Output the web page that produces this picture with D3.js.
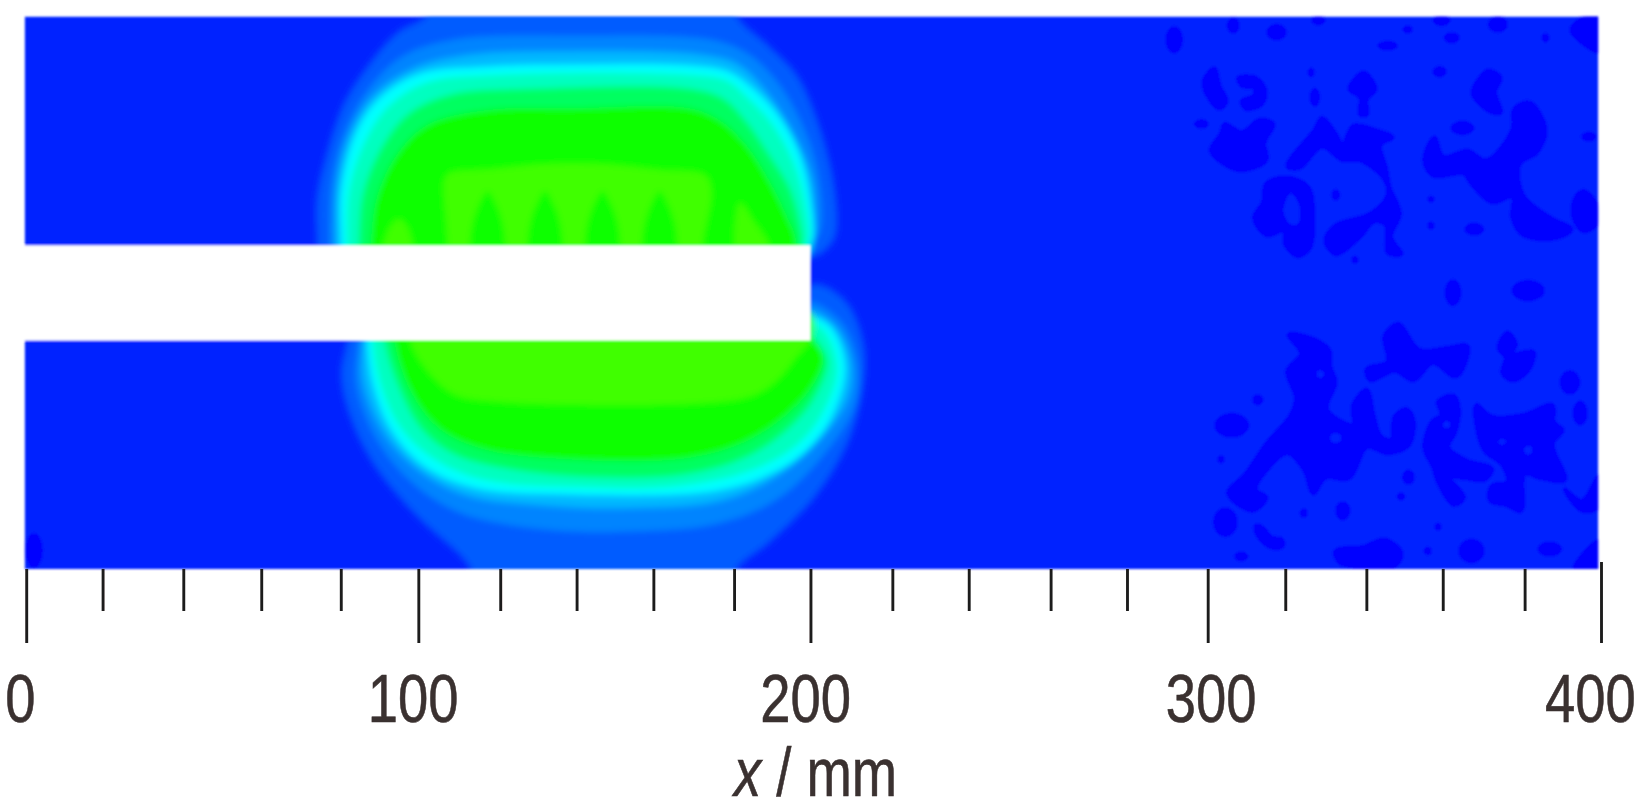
<!DOCTYPE html>
<html><head><meta charset="utf-8">
<script src="https://cdn.jsdelivr.net/npm/d3@7"></script>
<style>html,body{margin:0;padding:0;background:#fff}svg{display:block}</style>
</head><body><svg id="c" width="1644" height="799"></svg>
<script>
// ---- axis data (tick places, mm) ----
const minorTicks = [19.4,39.9,59.7,79.9,120.4,139.8,159.3,179.8,220,239.4,260.2,279.6,319.8,340.4,359.8,380.6];
const majorTicks = [0,99.6,199.2,300.1,400];
const tickLabels = ["0","100","200","300","400"];
const labelCentres = [-1.5,98.3,198,301,397.3];   // mm
const slot = {end:199.2, top:82.2, bottom:58};

// ---- field contours (mm), outermost to innermost ----
const levelColours = ["#005cff","#0084ff","#00b8ff","#00ffff","#00ffc0","#00ff60","#10ff00","#40ff00"];
const upper1 = [[73.8,70],[73.8,82.4],[73.8,94.1],[76.4,105.7],[80.8,118.4],[87,128],[94,136],[102,141],[102,146],[180.6,146],[180.6,140.5],[188.6,132.9],[195.9,125.2],[201.7,111.6],[205.4,96],[205.4,84.4],[201.7,80],[199,79],[190,70]];
const upper2 = [[77.1,70],[77.1,82.4],[77.6,98],[80.8,110.6],[86.6,121.3],[95.3,130],[108.5,134.4],[139.1,135.4],[174,134.4],[183,131],[190.5,124],[197,113],[201,100.9],[201.7,86.3],[199.1,82.4],[190,70]];
const upper3 = [[78.5,70],[78.5,82.4],[79,98],[82,110],[88,120],[98,127],[112,130.5],[139,131.5],[172,130.5],[181,128],[188.5,120.5],[195,110],[199.5,99],[200,86],[199.1,82],[190,70]];
const upper4 = [[80,70],[80,82.4],[80,96],[83.7,110.6],[89.5,119.3],[99.7,125.7],[117.2,127.6],[139.1,128.1],[168.2,127.9],[178.4,126.3],[184.3,122.3],[190.1,116.4],[195.9,106.7],[199.1,94.1],[199.6,82.4],[190,70]];
const upper5 = [[81.5,70],[81.5,82.4],[82,96],[86,108.5],[92,117.5],[101.5,123.5],[120,125.5],[168.2,125.5],[178,124],[183.5,119.5],[189.5,113],[195,103],[198,92],[198.5,82.4],[190,70]];
const upper6 = [[84,70],[84.5,82.4],[85.5,95],[90,106.5],[97,115.5],[108,120.5],[130,122],[168,122],[177,119.5],[183,113.5],[188.5,105.5],[194,96.5],[196.7,87],[197,82.4],[190,70]];
const upper7 = [[86.6,70],[87.5,82.4],[89,94],[94,105],[102,112.8],[118,116.6],[139,117],[168.2,117],[176,114],[183,107.5],[188.5,99],[193,90],[195.5,82.4],[190,70]];
const upper8 = [[106.3,70],[107,82.4],[106.3,99],[107.5,100.5],[118,101.5],[131.8,102.8],[146.4,102.8],[160.9,101.3],[172.5,99.9],[174,96],[171.9,82.4],[171.9,70]];
const lower1 = [[81.5,65],[81.5,58.3],[80,49.4],[82.2,39],[88,27],[98.3,14.4],[112.8,0],[112.8,-5],[180.6,-5],[180.6,0],[188.6,6.6],[200.3,18.3],[209,32.8],[212.7,47.4],[212.7,57.1],[209,66.9],[203.2,71.7],[199.1,72.2],[190,65]];
const lower2 = [[84.4,65],[84.4,58.3],[83.7,47.4],[88,34.8],[96.8,23.1],[109.9,14.4],[131.8,10],[153.6,9.5],[175.5,11.5],[190.1,17.3],[201.7,28],[210.5,41.6],[211.2,52.3],[207.6,62],[201.7,66.9],[199.1,67.8],[190,65]];
const lower3 = [[85.5,65],[85.5,58.3],[85.5,48],[90,36],[98,26.5],[111,19],[133,16],[154,15.5],[175,17],[188,22],[200,31.5],[208.5,43],[209.5,52.5],[206,61],[201,65],[199.1,65.5],[190,63]];
const lower4 = [[86.6,65],[86.6,58.3],[88,47.4],[92.4,35.8],[101.2,26],[114.3,20.5],[139.1,18.9],[165.3,18.9],[176,20],[186,22.8],[197,29],[204.5,38.5],[208,51.3],[204.7,61],[200.3,63.9],[199.1,63.8],[190,63]];
const lower5 = [[88,65],[88,58.3],[90,47],[95,36],[103.5,28],[116,22.7],[140,20.8],[165,21],[184,25],[195.8,31.5],[202.5,40],[206,51],[202.7,60.5],[199.1,62.5],[190,63]];
const lower6 = [[91,65],[91,58.3],[94.5,46.5],[100.5,35.5],[109,29],[122,25.5],[141,23.5],[167,24],[183,28.5],[194,36],[200.5,44],[203.5,53],[199.5,59.5],[199,60],[190,63]];
const lower7 = [[94,65],[93.5,58.3],[97.5,45.5],[104.5,36],[116,30.5],[139,27.8],[168,28.2],[183,32.5],[193.5,39.5],[200,47],[202.5,54],[199.1,59],[190,63]];
const lower8 = [[97.5,65],[97.5,58.3],[101.2,51.3],[108.5,44.5],[118.7,42.6],[182.8,43.5],[190.1,47.4],[195.9,54.2],[199.1,58.3],[199.1,65]];
// fingers of the plateau
const darkFingers = [
 [[112.7,76],[112.7,82.4],[113.4,88],[115.2,93],[117.2,96],[119.2,93],[121,88],[121.7,82.4],[121.7,76]],
 [[127.3,76],[127.3,82.4],[128,88],[129.8,93],[131.8,96],[133.8,93],[135.6,88],[136.3,82.4],[136.3,76]],
 [[141.9,76],[141.9,82.4],[142.6,88],[144.4,93],[146.4,96],[148.4,93],[150.2,88],[150.9,82.4],[150.9,76]],
 [[156.4,76],[156.4,82.4],[157.1,88],[158.9,93],[160.9,96],[162.9,93],[164.7,88],[165.4,82.4],[165.4,76]]
];
const lightFingers = [
 [[90,76],[90.8,82.4],[92.5,87],[94.6,88.9],[96.7,87],[98.2,82.4],[99,76]],
 [[181.3,76],[181.3,93],[185,88],[188.6,82.4],[189,76]]
];

// ---- lower-level patches in the right part: ellipses [x,y,rx,ry] (mm) ----
const spots = [[2,4.7,2.2,4.4],[291.6,134.4,2.2,3.4],[306.6,138,1.6,2],[317.6,136.3,2.6,2.1],[328.2,139.3,1.8,1.2],[345.8,132.9,2.6,1.2],[350.9,137,1.3,1],[359.5,139.3,2.2,1.4],[362.1,134.9,2,1.4],[373.8,138.3,2.5,2.1],[385.9,134.9,1,1.2],[359,126.3,1.8,1.4],[326.4,126.1,.9,1.2],[327.3,119.8,1.3,2.4],[298.5,113,1.9,1.2],[364.8,112,3,1.8],[396.9,109.8,2,1.2],[332.6,95,1.1,1.5],[356.8,93.9,.9,.8],[356.8,87.2,.9,1],[367.8,86.3,2.5,1.6],[337.5,78.5,.9,1],[362.4,70.2,2.1,3.4],[381.5,70.7,4.2,2.7],[312.8,43,1.4,1.4],[306.2,36.5,4.4,3.1],[303.5,27.9,.9,1],[392.1,47.4,2.6,3.1],[394.7,39.6,1.9,3.1],[351.1,23.3,1.6,1.9],[349.2,18.4,1,1],[334.4,14.8,1.9,2.4],[324.5,14.2,1,1.2],[304.6,11.9,3.1,3.7],[358.6,10.7,.9,1],[308.6,3.2,1.8,1.2],[367.1,4.6,3.3,3.1],[387,5.1,3.1,1.9],[356,4.6,1,1]];
const patch1 = [[299.1,123.7],[301.8,127.1],[303.1,122.7],[304.9,118.8],[303.1,116.9],[300.9,118.8]];
const patch2 = [[307.9,124.7],[312.4,124.7],[314.8,121.3],[313.7,117.9],[309.7,116.9],[308.8,118.8],[311.9,120.3],[311.9,122.2],[308.8,122.7]];
const patch3 = [[304.4,113],[308.8,111],[313.2,114],[316.8,113],[314.5,108.2],[315,103.8],[308,101.3],[300.9,106.2],[303.5,110.6]];
const patch4 = [[315,97.9],[320.3,99.4],[325.6,97],[326.9,90.2],[326,81.4],[322.9,79.5],[319.8,82.4],[319.4,85.8],[315,84.8],[311.9,89.2],[314.1,93.1]];
const patch5 = [[320.3,102.3],[327.3,111.6],[329.1,114.5],[332.6,110.6],[334.4,107.7],[337,112.5],[342.3,111.6],[347.1,109.6],[344,107.7],[345.4,101.8],[346.3,97],[348.9,90.2],[346.7,84.3],[349.3,80],[345.8,80.4],[345.4,87.3],[342.3,88.2],[338.8,84.3],[332.6,80],[330,83.4],[332.6,87.3],[341.4,90.2],[345.8,95],[345,98.9],[338.8,103.8],[334.4,103.8],[329.1,107.2],[323.4,101.8]];
const patch6 = [[339.7,126.1],[342.7,121.8],[340.5,119.3],[340.5,115.4],[338.8,115.4],[338.8,119.8],[336.1,121.8]];
const patch7 = [[371.4,126.6],[374.5,124.7],[373.1,121.3],[374.5,115.9],[371.4,116.4],[367.4,120.8],[369.2,124.7]];
const patch8 = [[357.7,109.6],[359.9,104.7],[366.1,106.2],[370.9,103.8],[377.5,111.6],[378,116.9],[382,118.4],[385.9,111.6],[383.7,105.7],[379.3,102.8],[380.2,95],[387.2,89.2],[392.5,86.3],[389,84.1],[380.2,84.8],[377.5,89.2],[377.5,94.5],[372.3,93.1],[367,97.9],[365.2,100.4],[357.3,99.9],[355.1,103.8]];
const patch9 = [[395.6,96],[399.1,92.1],[399.1,87.7],[395.6,85.8],[393,89.2],[393.4,94.1]];
const patch10 = [[392.5,136.8],[395.2,139.7],[399.5,140.6],[399.5,131.5]];
const patch11 = [[320.7,59.5],[326.4,58.6],[330.9,55.7],[331.3,51.3],[332.6,47.4],[330.4,40.6],[337,36.7],[337,41.6],[340.5,45.5],[342.3,38.7],[344,33.8],[346.7,32.8],[347.6,38.7],[350.7,40.6],[352.4,37.7],[351.1,31.4],[345.8,29.4],[340.5,30.9],[336.1,23.1],[330,23.1],[326.9,19.2],[324.7,25],[320.3,29.4],[315,25],[312.3,20.2],[315,18.2],[311.5,14.8],[305.3,19.2],[309.7,24.1],[315,31.8],[321.2,39.1],[322.5,43.5],[320.3,50.3],[323.8,54.7]];
const patch12 = [[348.5,62.2],[353.8,55.7],[360.8,56.1],[366.1,56.6],[364.3,49.8],[362.6,48.9],[357.3,52.3],[352.4,47.9],[347.6,50.3],[341.4,47.9],[340.5,50.8],[345.8,52.7],[345,59.1]];
const patch13 = [[376.2,60],[378.4,57.1],[377.5,54.7],[382.8,55.2],[381.5,50.3],[377.5,47.9],[374.9,49.8],[375.8,53.7],[374,56.1]];
const patch14 = [[358.6,42.5],[362.6,44],[363.9,40.6],[363,34.8],[361.2,30.9],[366.1,27.5],[372.3,25.5],[370.5,22.6],[365.2,23.1],[361.7,23.1],[365.2,18.2],[362.6,16.3],[359,21.2],[357.3,26],[355.1,30.9],[357.3,37.7],[359.5,39.1]];
const patch15 = [[368.3,41.6],[372.3,38.7],[380.2,39.1],[387.7,41.6],[388.1,37.2],[390.3,35.3],[387.7,31.8],[390.8,22.6],[384.6,23.1],[380.6,24.1],[379.7,14.8],[375.8,16.3],[371.8,17.3],[372.3,21.2],[376.2,22.1],[374.9,26.5],[370.5,29.9],[368.7,34.8]];
const patch16 = [[332.6,4.6],[339.7,5.6],[345,7.5],[349.3,4.1],[347.6,.7],[339.7,.3],[333.5,1.7]];
const patch17 = [[390.8,20.2],[395.2,17.3],[399.5,23.6],[399.5,15.8],[395.2,14.8]];
const patch18 = [[393.4,.3],[399.5,7.1],[399.5,0]];
const patch19 = [[312.3,11],[314.1,10.5],[316.3,8],[319,7.5],[319,5.6],[315.9,5.6],[312.8,8.5]];
const holes = [[321.2,95.5],[323.4,92.1],[323,87.6],[321,87.6],[319.4,91.1]];
const holeSpots = [[328.7,49.5,.9,.9],[332.6,33.3,1.4,1.3],[360.8,36.6,.9,.9],[381.5,30.2,1,1.1],[374.9,32.3,.9,.7]];

const bgColour = "#0024ff", patchColour = "#0000ff", inkColour = "#3a3130", tickColour = "#1f1c1c";

// ---- layout ----
const svg = d3.select("#c");
const x = d3.scaleLinear().domain([0,400]).range([26.2,1601]);
const y = d3.scaleLinear().domain([0,140.3]).range([569,16.5]);
const xLeft = -0.4, xRight = 399.3;

const defs = svg.append("defs");
defs.append("clipPath").attr("id","plot").append("rect")
  .attr("x",x(xLeft)).attr("y",y(140.3)).attr("width",x(xRight)-x(xLeft)).attr("height",y(0)-y(140.3));
function blur(id,s){ defs.append("filter").attr("id",id).attr("x","-10%").attr("y","-10%").attr("width","120%").attr("height","120%")
  .append("feGaussianBlur").attr("stdDeviation",s); }
blur("bField",3); blur("bPatch",1); blur("bEdge",0.8); blur("bTick",0.5);

const line = d3.line().x(d=>x(d[0])).y(d=>y(d[1])).curve(d3.curveCatmullRomClosed.alpha(0.5));

const root = svg.append("g").attr("filter","url(#bEdge)");
const plot = root.append("g").attr("clip-path","url(#plot)");
plot.append("rect").attr("x",x(xLeft)).attr("y",y(140.3)).attr("width",x(xRight)-x(xLeft)).attr("height",y(0)-y(140.3)).attr("fill",bgColour);

const field = plot.append("g").attr("filter","url(#bField)");
[upper1,upper2,upper3,upper4,upper5,upper6,upper7,upper8].forEach((c,i)=>
  field.append("path").attr("d",line(c)).attr("fill",levelColours[i]));
[lower1,lower2,lower3,lower4,lower5,lower6,lower7,lower8].forEach((c,i)=>
  field.append("path").attr("d",line(c)).attr("fill",levelColours[i]));
lightFingers.forEach(c=>field.append("path").attr("d",line(c)).attr("fill",levelColours[7]));
darkFingers.forEach(c=>field.append("path").attr("d",line(c)).attr("fill",levelColours[6]));

const patches = plot.append("g").attr("filter","url(#bPatch)");
[patch1,patch2,patch3,patch4,patch5,patch6,patch7,patch8,patch9,patch10,patch11,patch12,patch13,patch14,patch15,patch16,patch17,patch18,patch19]
  .forEach(c=>patches.append("path").attr("d",line(c)).attr("fill",patchColour)
    .attr("stroke",patchColour).attr("stroke-width",4).attr("stroke-linejoin","round"));
patches.selectAll("ellipse.s").data(spots).join("ellipse").attr("class","s")
  .attr("cx",d=>x(d[0])).attr("cy",d=>y(d[1])).attr("rx",d=>x(d[2])-x(0)).attr("ry",d=>y(0)-y(d[3])).attr("fill",patchColour);
patches.append("path").attr("d",line(holes)).attr("fill",bgColour);
patches.selectAll("ellipse.h").data(holeSpots).join("ellipse").attr("class","h")
  .attr("cx",d=>x(d[0])).attr("cy",d=>y(d[1])).attr("rx",d=>x(d[2])-x(0)).attr("ry",d=>y(0)-y(d[3])).attr("fill",bgColour);

// the slot
root.append("rect").attr("x",0).attr("y",y(slot.top)).attr("width",x(slot.end)).attr("height",y(slot.bottom)-y(slot.top)).attr("fill","#fff");

// ---- axis ----
const minorAxis = d3.axisBottom(x).tickValues(minorTicks).tickSize(42).tickFormat("");
const majorAxis = d3.axisBottom(x).tickValues(majorTicks).tickSize(74).tickFormat("");
const axes = svg.append("g").attr("filter","url(#bTick)");
[minorAxis,majorAxis].forEach(a=>{
  const g = axes.append("g").attr("transform",`translate(0,${y(0)})`).call(a);
  g.select(".domain").remove();
  g.selectAll("line").attr("stroke",tickColour).attr("stroke-width",2.9);
  g.selectAll(".tick").filter(d=>d===400).select("line").attr("y1",-7);
});

const labelFont = "'Liberation Sans',Arial,sans-serif";
svg.selectAll("text.lab").data(tickLabels).join("text").attr("class","lab")
  .attr("transform",(d,i)=>`translate(${x(labelCentres[i])},722) scale(0.8,1)`)
  .attr("text-anchor","middle").attr("font-family",labelFont).attr("font-size",68).attr("fill",inkColour)
  .attr("stroke",inkColour).attr("stroke-width",0.6)
  .text(d=>d);

const title = svg.append("text").attr("transform",`translate(${x(200.5)},796) scale(0.8,1)`)
  .attr("text-anchor","middle").attr("font-family",labelFont).attr("font-size",68).attr("fill",inkColour)
  .attr("stroke",inkColour).attr("stroke-width",0.6);
title.append("tspan").attr("font-style","italic").text("x");
title.append("tspan").text(" / mm");
</script></body></html>
